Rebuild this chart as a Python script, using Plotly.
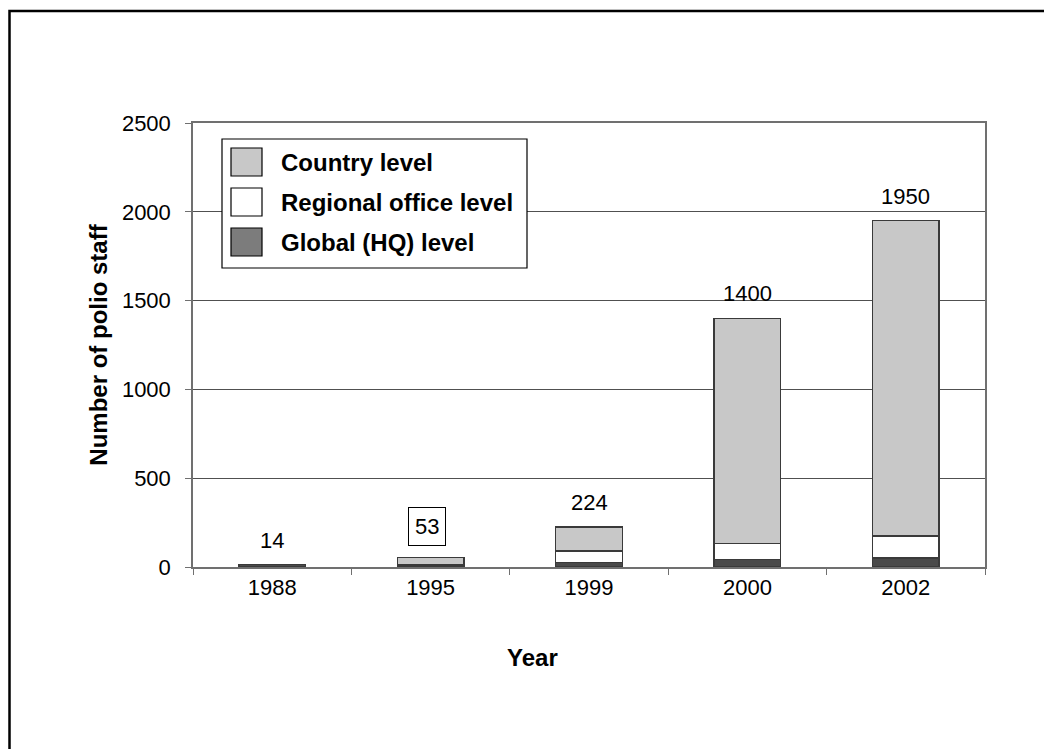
import plotly.graph_objects as go

years = ["1988", "1995", "1999", "2000", "2002"]
global_hq = [14, 5, 25, 42, 50]
regional = [0, 10, 65, 90, 125]
country = [0, 38, 134, 1268, 1775]
totals = [14, 53, 224, 1400, 1950]
series_names = ["Country level", "Regional office level", "Global (HQ) level"]
x_title = "Year"
y_title = "Number of polio staff"

FONT = "Liberation Sans, Arial, sans-serif"
BAR_COLORS = {"global": "#4a4a4a", "regional": "#ffffff", "country": "#c8c8c8"}
LEG_COLORS = ["#c8c8c8", "#ffffff", "#7c7c7c"]

# the page body has an 8px margin; work in reference pixels and shift
OFF = 8
FW, FH = 1052 - OFF, 749 - OFF
L, R, T, B = 193 - OFF, 985 - OFF, 123 - OFF, 567 - OFF
W, H = R - L, B - T
def px(x):
    return (x - OFF - L) / W
def py(y):
    return (B - (y - OFF)) / H

fig = go.Figure()
for name, vals, col in [
    (series_names[2], global_hq, BAR_COLORS["global"]),
    (series_names[1], regional, BAR_COLORS["regional"]),
    (series_names[0], country, BAR_COLORS["country"]),
]:
    fig.add_trace(go.Bar(
        x=years, y=vals, name=name, width=0.42,
        marker=dict(color=col, line=dict(color="#3a3a3a", width=1.5)),
        showlegend=False, hoverinfo="skip",
    ))

# value labels above bars (x given as category index)
for i, (yr, tot) in enumerate(zip(years, totals)):
    boxed = (yr == "1995")
    fig.add_annotation(
        x=i, y=tot, xref="x", yref="y", text=str(tot), showarrow=False,
        yanchor="bottom", yshift=12, xshift=(-4 if boxed else 0),
        font=dict(family=FONT, size=22, color="black"),
        bordercolor="black" if boxed else "rgba(0,0,0,0)",
        borderwidth=1 if boxed else 0, borderpad=6 if boxed else 0,
    )

# x-axis title (placed left of centre as in the reference)
fig.add_annotation(xref="paper", yref="paper", x=px(532), y=py(657),
                   xanchor="center", yanchor="middle", showarrow=False,
                   text="<b>%s</b>" % x_title,
                   font=dict(family=FONT, size=24, color="black"))

shapes = []
# outer frame (extends beyond the page on right/bottom)
shapes.append(dict(type="rect", xref="paper", yref="paper",
                   x0=px(9.5), x1=px(1100), y0=py(800), y1=py(11),
                   line=dict(color="black", width=2.5), fillcolor="rgba(0,0,0,0)", layer="below"))
# legend box
shapes.append(dict(type="rect", xref="paper", yref="paper",
                   x0=px(222), x1=px(527), y0=py(268), y1=py(139),
                   line=dict(color="black", width=1.2), fillcolor="white", layer="above"))
centers = [162, 202, 242]
for name, col, cy in zip(series_names, LEG_COLORS, centers):
    shapes.append(dict(type="rect", xref="paper", yref="paper",
                       x0=px(231), x1=px(262), y0=py(cy + 14), y1=py(cy - 14),
                       line=dict(color="black", width=1.2), fillcolor=col, layer="above"))
    fig.add_annotation(xref="paper", yref="paper", x=px(279), y=py(cy),
                       xanchor="left", yanchor="middle", showarrow=False,
                       text="<b>%s</b>" % name,
                       font=dict(family=FONT, size=24, color="black"))

fig.update_layout(
    width=FW, height=FH,
    margin=dict(l=L, r=FW - R, t=T, b=FH - B),
    paper_bgcolor="white", plot_bgcolor="white",
    barmode="stack",
    shapes=shapes,
    font=dict(family=FONT, size=22, color="black"),
    showlegend=False,
)
fig.update_xaxes(
    type="category", range=[-0.5, 4.5],
    showline=True, linecolor="#707070", linewidth=1.5, mirror=True,
    ticks="outside", tickson="boundaries", ticklen=6, tickcolor="#707070",
    tickfont=dict(family=FONT, size=22), showgrid=False,
)
fig.update_yaxes(
    title=dict(text="<b>%s</b>" % y_title, font=dict(family=FONT, size=24), standoff=7),
    range=[0, 2500], dtick=500, tick0=0,
    showline=True, linecolor="#707070", linewidth=1.5, mirror=True,
    ticks="outside", ticklen=6, tickcolor="#707070", ticklabelstandoff=10,
    tickfont=dict(family=FONT, size=22),
    showgrid=True, gridcolor="#505050", gridwidth=1, zeroline=False,
)

fig.write_html("out.html")
